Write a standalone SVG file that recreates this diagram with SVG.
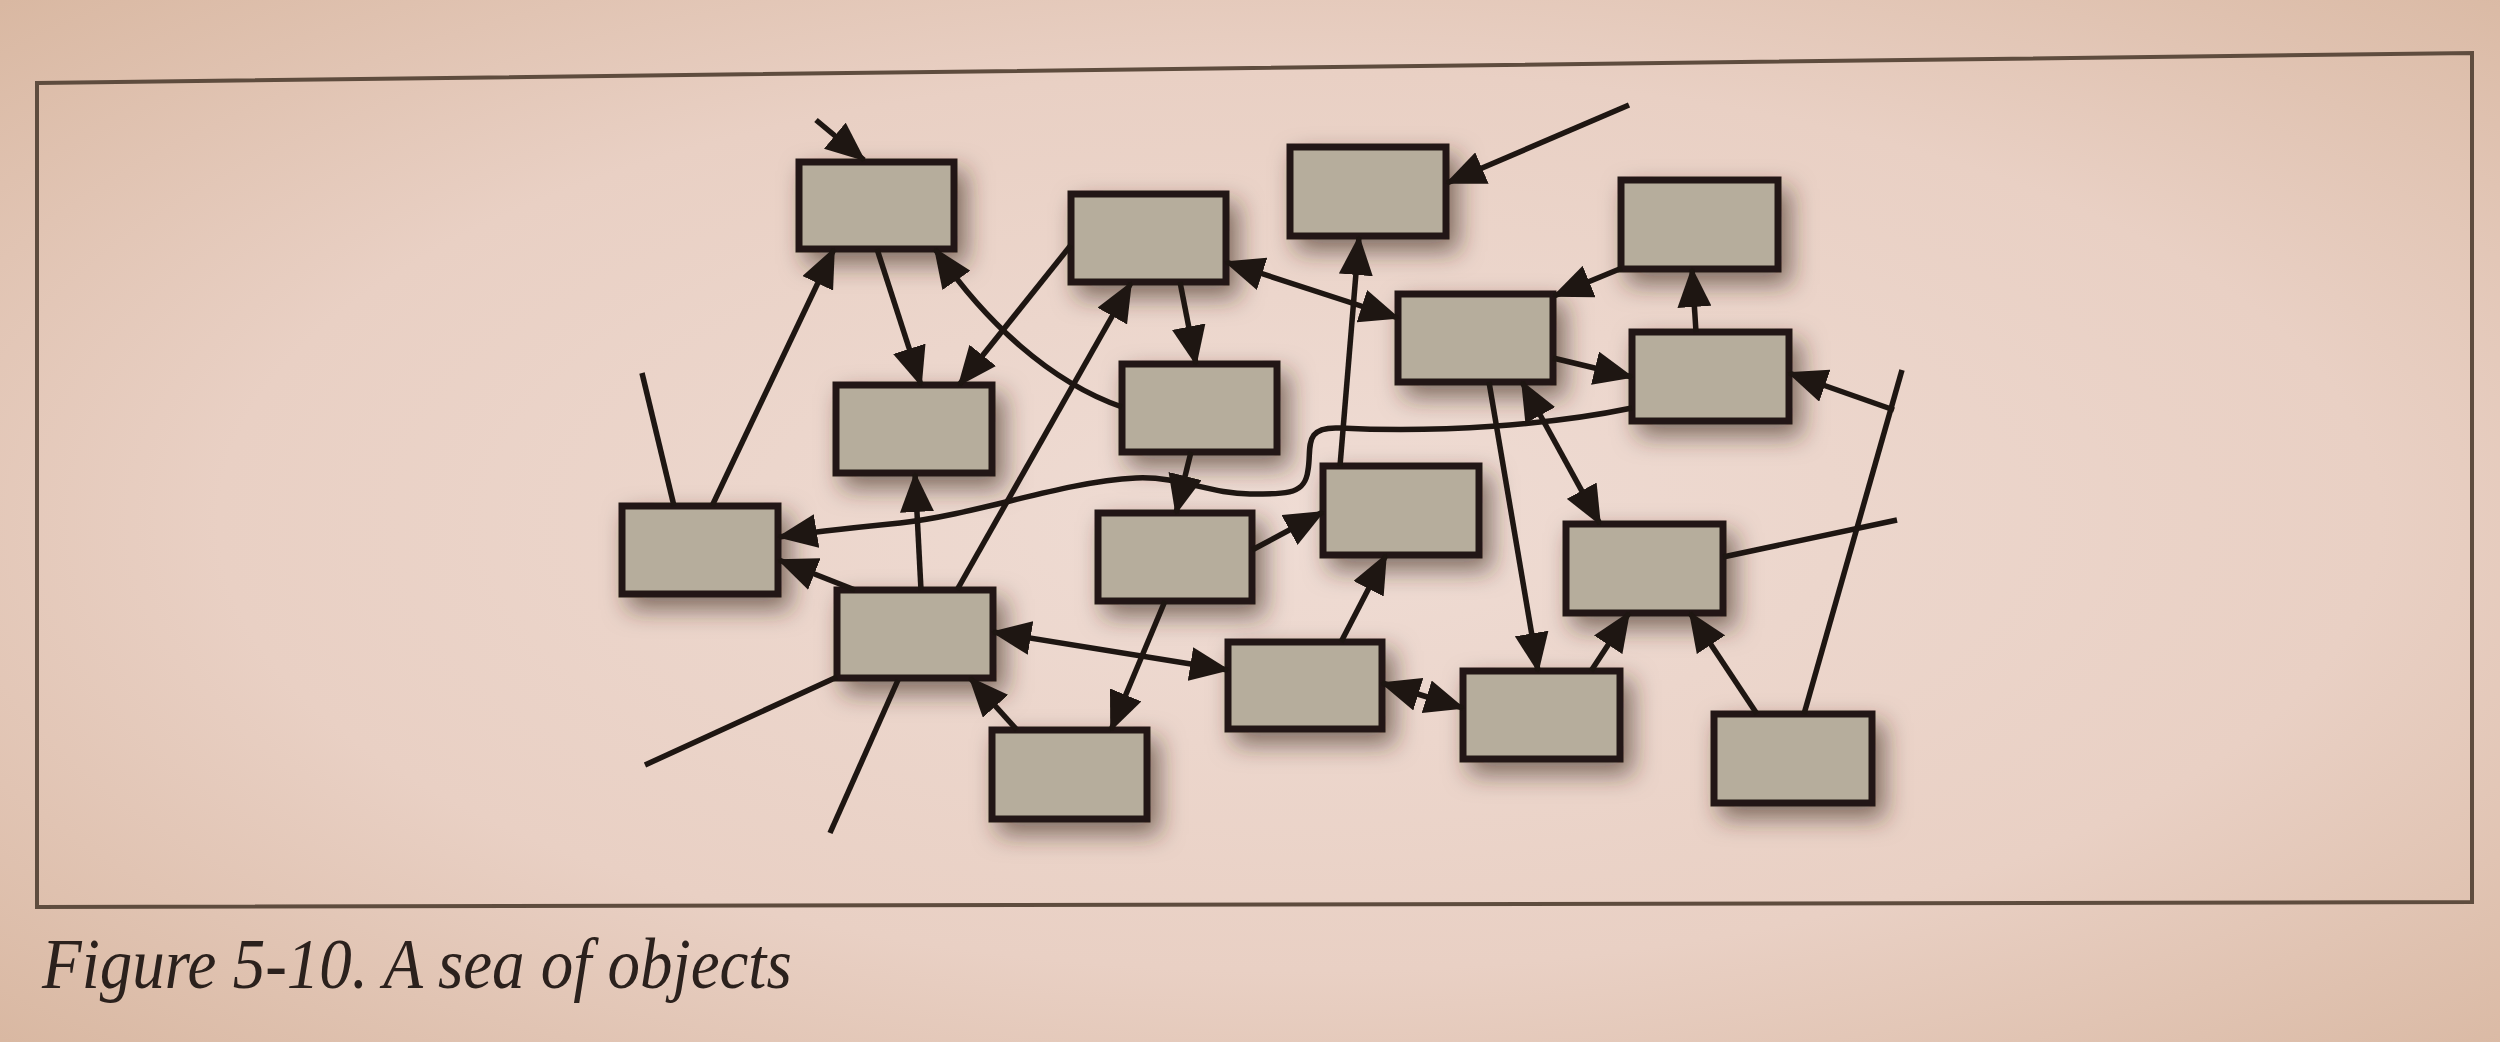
<svg xmlns="http://www.w3.org/2000/svg" width="2500" height="1042" viewBox="0 0 2500 1042">
<defs>
<radialGradient id="bg" cx="0.52" cy="0.5" r="0.72">
<stop offset="0" stop-color="#efdcd4"/>
<stop offset="0.6" stop-color="#e9d0c4"/>
<stop offset="1" stop-color="#d9b8a2"/>
</radialGradient>
<filter id="sh" x="-40%" y="-40%" width="190%" height="200%">
<feGaussianBlur in="SourceAlpha" stdDeviation="12"/>
<feOffset dx="9" dy="12" result="b"/>
<feFlood flood-color="#3a281e" flood-opacity="0.6"/>
<feComposite in2="b" operator="in" result="s"/>
<feMerge><feMergeNode in="s"/><feMergeNode in="SourceGraphic"/></feMerge>
</filter>
<marker id="arr" markerUnits="userSpaceOnUse" markerWidth="40" markerHeight="34" refX="38" refY="17" orient="auto-start-reverse" viewBox="0 0 40 34">
<path d="M0,0 L40,17 L0,34 Z" fill="#1e1612"/>
</marker>
<style>
.box{fill:#b6ad9c;stroke:#221914;stroke-width:7;filter:url(#sh)}
.c{fill:none;stroke:#1e1612;stroke-width:5.5}
.e{marker-end:url(#arr)}
.b{marker-start:url(#arr);marker-end:url(#arr)}
.cap{font-family:"Liberation Serif",serif;font-style:italic;font-size:65px;fill:#2b211d}
</style>
</defs>
<rect x="0" y="0" width="2500" height="1042" fill="url(#bg)"/>
<path d="M37,83 L2472,53 L2472,902 L37,907 Z" fill="none" stroke="#5e4c3e" stroke-width="4"/>
<g id="nodes">
<g id="nA"><rect class="box" x="799" y="162" width="155" height="87"/></g>
<g id="nB"><rect class="box" x="1071" y="194" width="155" height="88"/></g>
<g id="nC"><rect class="box" x="1290" y="147" width="156" height="89"/></g>
<g id="nD"><rect class="box" x="1621" y="180" width="157" height="89"/></g>
<g id="nE"><rect class="box" x="1398" y="294" width="155" height="88"/></g>
<g id="nF"><rect class="box" x="1632" y="332" width="157" height="89"/></g>
<g id="nG"><rect class="box" x="836" y="385" width="156" height="88"/></g>
<g id="nH"><rect class="box" x="1122" y="364" width="155" height="88"/></g>
<g id="nI"><rect class="box" x="622" y="506" width="156" height="88"/></g>
<g id="nJ"><rect class="box" x="1098" y="513" width="154" height="88"/></g>
<g id="nK"><rect class="box" x="1323" y="466" width="156" height="89"/></g>
<g id="nL"><rect class="box" x="1566" y="524" width="157" height="89"/></g>
<g id="nM"><rect class="box" x="837" y="590" width="156" height="88"/></g>
<g id="nN"><rect class="box" x="1228" y="642" width="154" height="87"/></g>
<g id="nO"><rect class="box" x="1463" y="671" width="157" height="88"/></g>
<g id="nP"><rect class="box" x="992" y="730" width="155" height="89"/></g>
<g id="nQ"><rect class="box" x="1714" y="714" width="158" height="89"/></g>
</g>
<g id="connectors">
<path class="c e" d="M816,120 L864,160"/>
<path class="c e" d="M712,506 L834,249"/>
<path class="c" d="M642,373 L674,506"/>
<path class="c e" d="M877,249 L921,385"/>
<path class="c e" d="M1071,245 L959,385"/>
<path class="c e" d="M1122,407 C1050,382 985,322 935,249"/>
<path class="c e" d="M1180,282 L1196,364"/>
<path class="c e" d="M957,590 L1131,283"/>
<path class="c e" d="M921,590 L915,474"/>
<path class="c e" d="M855,590 L779,560"/>
<path class="c e" d="M1632,408 C1550,425 1440,433 1340,428 C1302,426 1312,448 1308,470 C1305,494 1290,494 1250,494 C1210,494 1180,476 1136,478 C1060,482 980,514 900,523 C850,528 810,532 779,537"/>
<path class="c e" d="M1191,452 L1176,513"/>
<path class="c e" d="M1252,550 L1323,512"/>
<path class="c e" d="M1341,642 L1386,555"/>
<path class="c e" d="M1340,466 L1359,237"/>
<path class="c e" d="M1629,105 L1447,183"/>
<path class="c b" d="M1226,262 L1398,318"/>
<path class="c e" d="M1622,268 L1554,296"/>
<path class="c e" d="M1696,332 L1692,269"/>
<path class="c e" d="M1553,358 L1632,377"/>
<path class="c" d="M1804,714 L1902,370"/>
<path class="c e" d="M1894,410 L1789,373"/>
<path class="c b" d="M1522,382 L1600,524"/>
<path class="c e" d="M1489,382 L1538,671"/>
<path class="c e" d="M1591,671 L1629,613"/>
<path class="c e" d="M1757,714 L1690,613"/>
<path class="c" d="M1723,557 L1897,520"/>
<path class="c b" d="M1382,683 L1463,708"/>
<path class="c b" d="M993,632 L1228,670"/>
<path class="c e" d="M1165,601 L1111,730"/>
<path class="c e" d="M1017,730 L970,678"/>
<path class="c" d="M837,677 L645,765"/>
<path class="c" d="M898,680 L830,833"/>
</g>
<text class="cap" transform="translate(42,988) scale(1,1.12)">Figure 5-10. A sea of objects</text>
</svg>
